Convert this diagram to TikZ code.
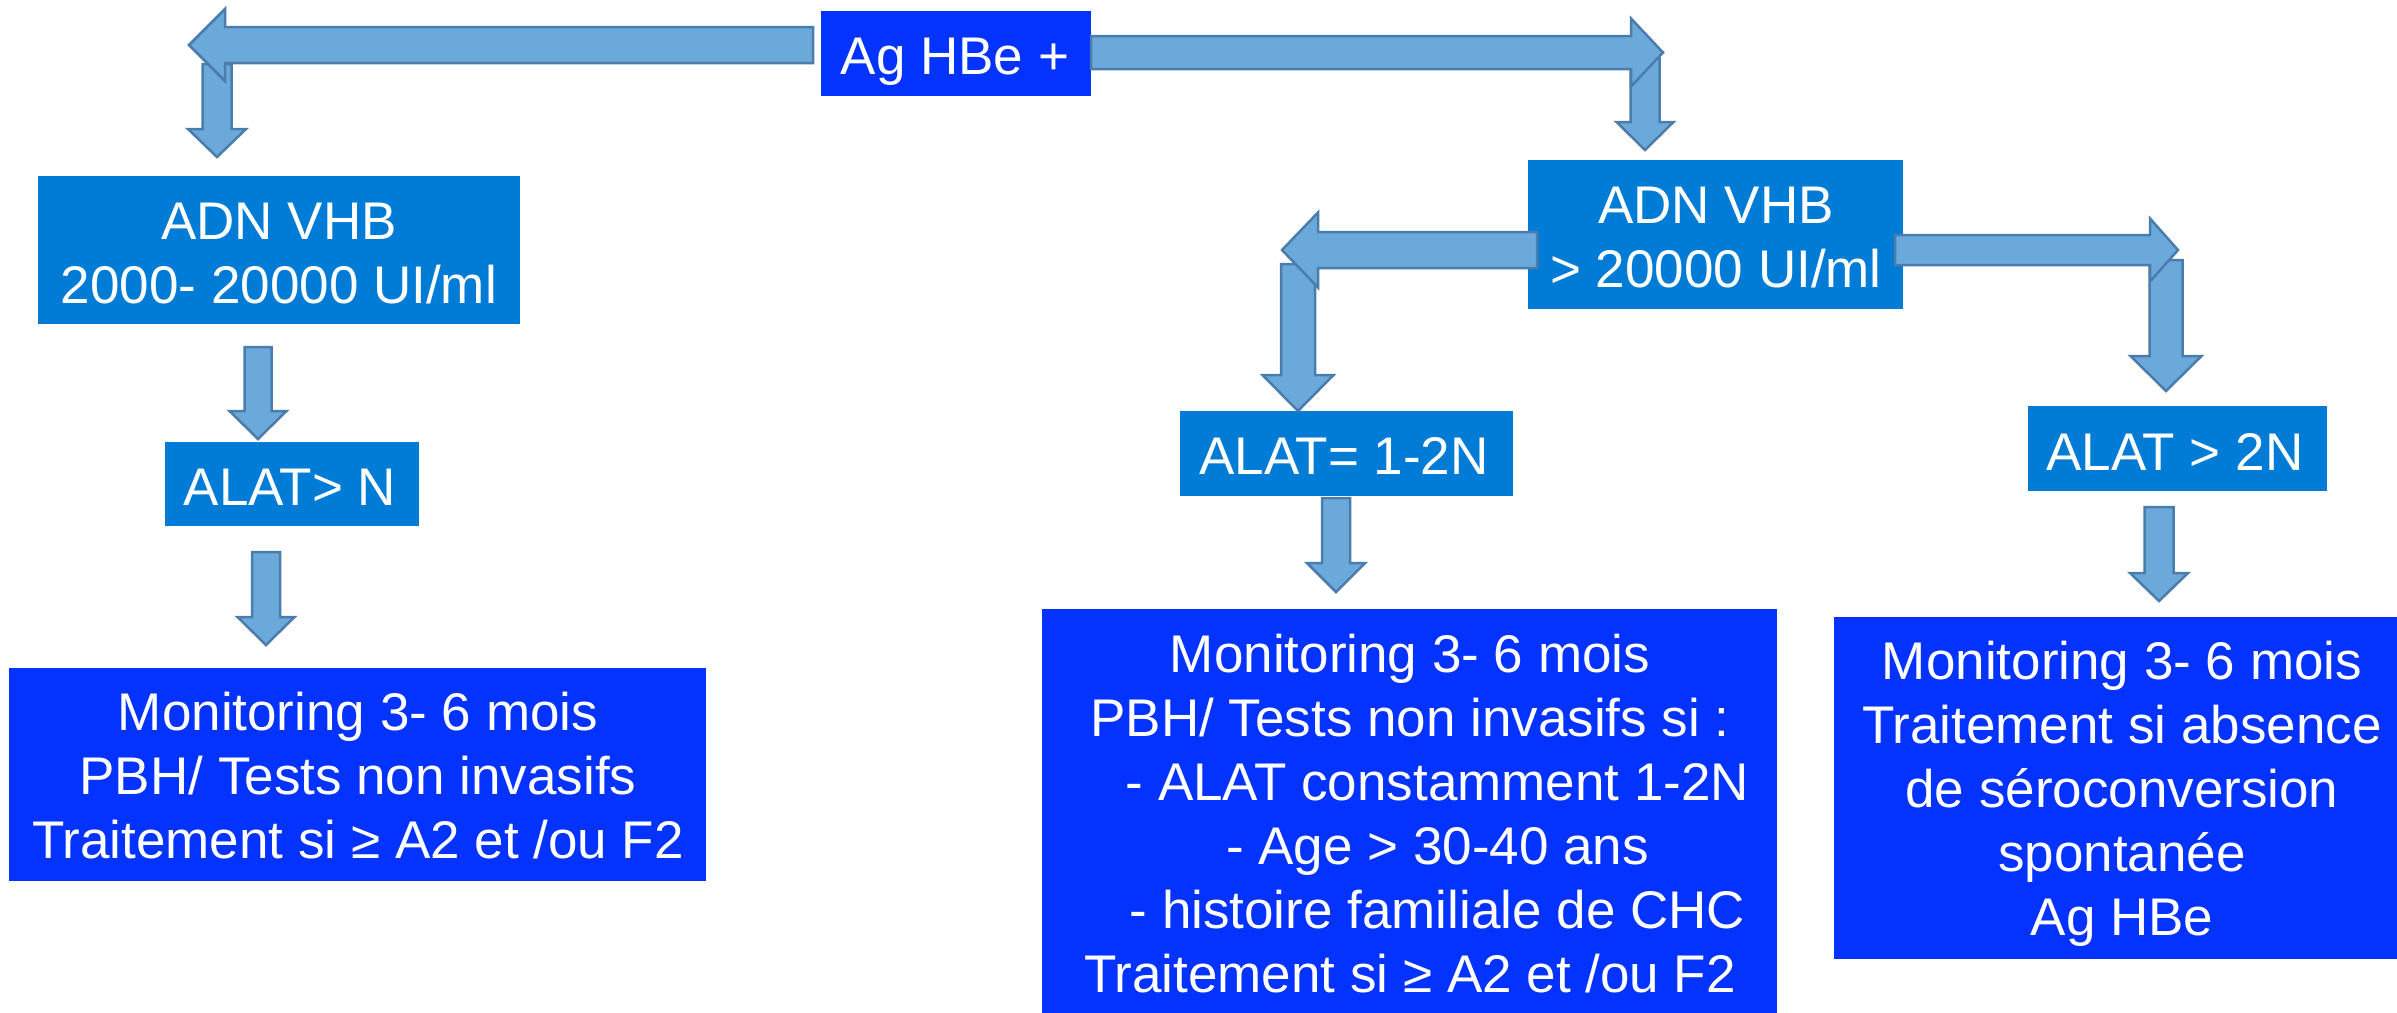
\documentclass[tikz,border=0pt]{standalone}
\usepackage{fontspec}
\setmainfont{Liberation Sans}
\definecolor{lightbox}{RGB}{0,124,214}
\definecolor{darkbox}{RGB}{4,51,255}
\definecolor{arrowfill}{RGB}{108,169,219}
\definecolor{arrowline}{RGB}{74,124,172}
% horizontal block arrow: #1 x start, #2 x head base, #3 x tip, #4 y centre, #5 shaft half, #6 head half
\newcommand\hblockarrow[6]{%
  \filldraw[barrow] (#1,{#4-#5}) -- (#2,{#4-#5}) -- (#2,{#4-#6}) -- (#3,#4) -- (#2,{#4+#6}) -- (#2,{#4+#5}) -- (#1,{#4+#5}) -- cycle;}
% vertical block arrow: #1 x centre, #2 y top, #3 y head base, #4 y tip, #5 shaft half, #6 head half
\newcommand\vblockarrow[6]{%
  \filldraw[barrow] ({#1-#5},#2) -- ({#1-#5},#3) -- ({#1-#6},#3) -- (#1,#4) -- ({#1+#6},#3) -- ({#1+#5},#3) -- ({#1+#5},#2) -- cycle;}
\begin{document}
\begin{tikzpicture}[x=1pt,y=-1pt,
  lbox/.style={rectangle, fill=lightbox, inner sep=0pt, outer sep=0pt, anchor=north west},
  dbox/.style={rectangle, fill=darkbox, inner sep=0pt, outer sep=0pt, anchor=north west},
  txt/.style={text=white, align=center, font=\fontsize{53}{64}\selectfont, inner sep=0pt, anchor=base},
  barrow/.style={fill=arrowfill, draw=arrowline, line width=2.5pt, line join=miter}]
\useasboundingbox (0,0) rectangle (2397,1012);
\clip (0,0) rectangle (2397,1012);

% boxes
\node[dbox, minimum width=270pt, minimum height=85pt] (ag) at (821,11) {};
\node[lbox, minimum width=482pt, minimum height=148pt] (adnL) at (38,176) {};
\node[lbox, minimum width=254pt, minimum height=84pt] (alatN) at (165,442) {};
\node[dbox, minimum width=697pt, minimum height=213pt] (monL) at (9,668) {};
\node[lbox, minimum width=375pt, minimum height=149pt] (adnR) at (1528,160) {};
\node[lbox, minimum width=333pt, minimum height=85pt] (alat12) at (1180,411) {};
\node[lbox, minimum width=299pt, minimum height=85pt] (alat2) at (2028,406) {};
\node[dbox, minimum width=735pt, minimum height=420pt] (monM) at (1042,609) {};
\node[dbox, minimum width=576pt, minimum height=342pt] (monR) at (1834,617) {};

% texts (anchor = baseline of the last line)
\node[txt] (agT) at (955,74) {Ag HBe +};
\node[txt] (adnLT) at (279,303) {ADN VHB\\2000- 20000 UI/ml};
\node[txt] (alatNT) at (290,505) {ALAT> N};
\node[txt] (monLT) at (358,858) {Monitoring 3- 6 mois\\PBH/ Tests non invasifs\\Traitement si ≥ A2 et /ou F2};
\node[txt] (adnRT) at (1716,287) {ADN VHB\\> 20000 UI/ml};
\node[txt] (alat12T) at (1344,474) {ALAT= 1-2N};
\node[txt] (alat2T) at (2175,470) {ALAT > 2N};
\node[txt] (monMT) at (1410,992) {Monitoring 3- 6 mois\\PBH/ Tests non invasifs si :\\\hspace*{55pt}- ALAT constamment 1-2N\\\hspace*{55pt}- Age > 30-40 ans\\\hspace*{55pt}- histoire familiale de CHC\\Traitement si ≥ A2 et /ou F2};
\node[txt] (monRT) at (2122,935) {Monitoring 3- 6 mois\\Traitement si absence\\de séroconversion\\spontanée\\Ag HBe};

% vertical arrows (drawn under the horizontal ones)
\vblockarrow{217}{64}{129}{157}{14.5}{29}
\vblockarrow{1645}{55}{122}{150}{14.5}{28.5}
\vblockarrow{1298}{264}{375}{411}{17}{35.5}
\vblockarrow{2166}{260}{356}{391}{16.5}{35.5}
\vblockarrow{258}{347}{411}{439}{13.5}{28.5}
\vblockarrow{266}{552}{617}{645}{14}{28.5}
\vblockarrow{1336}{498}{563}{592}{14}{29}
\vblockarrow{2159}{507}{573}{601}{14.5}{29}

% horizontal arrows
\hblockarrow{813}{225}{189}{45}{18}{36}
\hblockarrow{1091}{1631}{1663}{52.5}{16.5}{34}
\hblockarrow{1537}{1318}{1282}{250}{18}{37.5}
\hblockarrow{1895}{2150}{2178}{250}{15}{31.5}
\end{tikzpicture}
\end{document}
